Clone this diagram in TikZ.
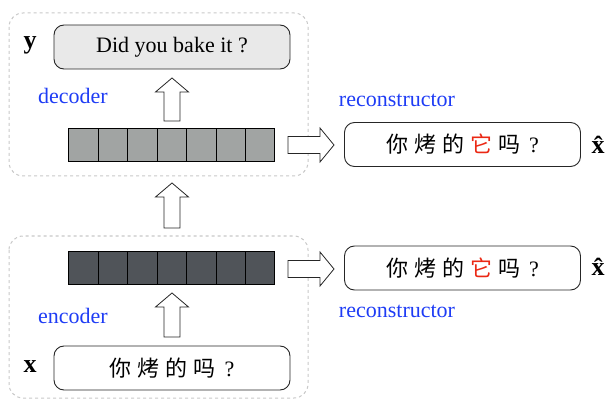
\documentclass[tikz,border=0pt]{standalone}
\usepackage{fontspec}
\setmainfont{Liberation Serif}
\newfontfamily\cjk{Noto Sans CJK SC}
\definecolor{labelblue}{RGB}{30,60,245}
\definecolor{pronred}{RGB}{235,40,20}
\definecolor{decgray}{RGB}{161,164,163}
\definecolor{encgray}{RGB}{80,84,89}
\definecolor{boxgray}{RGB}{233,233,233}
\definecolor{framegray}{RGB}{200,200,200}
% spaced-out Chinese sentence
\newcommand\zh[1]{{\cjk\fontsize{22}{26}\selectfont #1}}
\newcommand\gap{\hspace{6pt}}
\begin{document}
\begin{tikzpicture}[x=1pt,y=-1pt,
  every node/.style={font=\fontsize{22}{26}\selectfont},
  frame/.style={draw=framegray,line width=1pt,dash pattern=on 3pt off 3pt,rounded corners=14pt},
  sent/.style={draw=black!85,line width=0.9pt,rounded corners=10pt,minimum width=236pt,minimum height=44pt,inner sep=0pt},
  cell/.style={draw=black,line width=0.8pt},
  blockarrow/.style={draw=black!85,line width=0.8pt,fill=white},
  lbl/.style={text=labelblue,inner sep=0pt},
  sym/.style={inner sep=0pt,font=\fontsize{26}{30}\selectfont\bfseries}]
\useasboundingbox (0,0) rectangle (611,401);

% encoder / decoder groups
\draw[frame] (9,13) rectangle (308,176);
\draw[frame] (9,236) rectangle (308,398);

% sentences
\node[sent,fill=boxgray] (ybox) at (172,47) {Did you bake it ?};
\node[sent,fill=white] (xbox) at (172,368) {\zh{你}\gap\zh{烤}\gap\zh{的}\gap\zh{吗}\gap\hspace{3pt}?};
\node[sent,fill=white] (rtop) at (462.5,144.5) {\zh{你}\gap\zh{烤}\gap\zh{的}\gap\textcolor{pronred}{\zh{它}}\gap\zh{吗}\gap\hspace{3pt}?};
\node[sent,fill=white] (rbot) at (462.5,268) {\zh{你}\gap\zh{烤}\gap\zh{的}\gap\textcolor{pronred}{\zh{它}}\gap\zh{吗}\gap\hspace{3pt}?};

% symbols and labels
\node[sym] (ysym) at (30,45) {y};
\node[sym] (xsym) at (30,367) {x};
\node[sym] (xhat1) at (598,145) {\^{x}};
\node[sym] (xhat2) at (598,267) {\^{x}};
\node[lbl] (declbl) at (73,96) {decoder};
\node[lbl] (enclbl) at (73,316) {encoder};
\node[lbl] (rlbl1) at (397,100) {reconstructor};
\node[lbl] (rlbl2) at (397,311) {reconstructor};

% hidden-state rows
\node[minimum width=206pt,minimum height=33pt,inner sep=0pt] (dec) at (172,145.5) {};
\node[minimum width=206pt,minimum height=33pt,inner sep=0pt] (enc) at (172,268.5) {};
\foreach \i in {0,...,6}{
  \draw[cell,fill=decgray] ([xshift=\i*29.43pt]dec.north west) rectangle ++(29.43,33);
  \draw[cell,fill=encgray] ([xshift=\i*29.43pt]enc.north west) rectangle ++(29.43,33);
}

% block arrows: up (x, tip y, tail y) and right (tail x, tip x, mid y)
\newcommand\blockup[3]{\draw[blockarrow] (#1-8,#3) -- (#1-8,#2+14) -- (#1-16.5,#2+14) -- (#1,#2) -- (#1+16.5,#2+14) -- (#1+8,#2+14) -- (#1+8,#3) -- cycle;}
\newcommand\blockright[3]{\draw[blockarrow] (#1,#3-8.5) -- (#2-14,#3-8.5) -- (#2-14,#3-17) -- (#2,#3) -- (#2-14,#3+17) -- (#2-14,#3+8.5) -- (#1,#3+8.5) -- cycle;}
\blockup{172}{78}{121}
\blockup{172}{183}{228}
\blockup{172}{293}{337}
\blockright{288}{334}{145}
\blockright{288}{334}{269}
\end{tikzpicture}
\end{document}
